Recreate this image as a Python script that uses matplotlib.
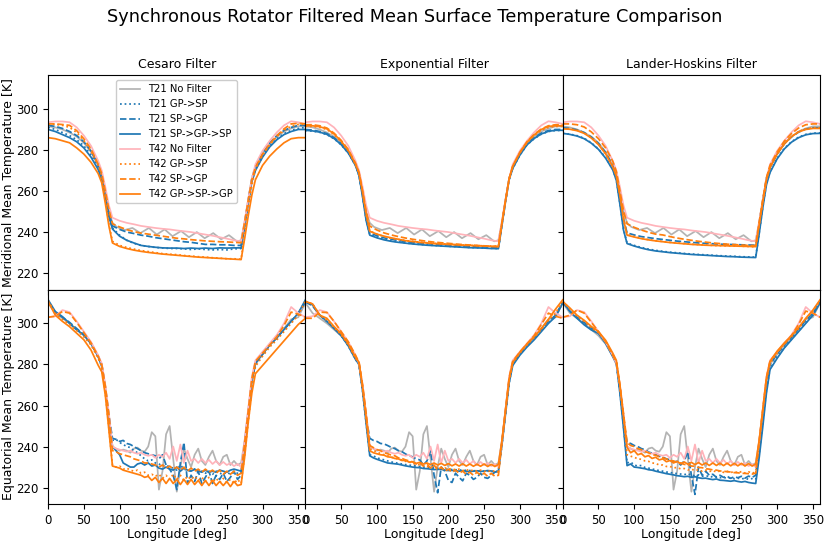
import matplotlib
matplotlib.use("Agg")
import matplotlib.pyplot as plt

# ---------------- longitude grids ----------------
LON_MER = [0, 10, 20, 30, 40, 50, 60, 70, 75, 80, 85,
           90, 100, 110, 120, 130, 140, 150, 160, 170, 180, 190, 200, 210, 220, 230, 240, 250, 260, 270,
           275, 280, 285, 290, 300, 310, 320, 330, 340, 350, 360]
LON_MER_T21NF = [0, 10, 20, 30, 40, 50, 60, 70, 75, 80, 85,
                 90, 96, 107, 118, 129, 141, 152, 163, 174, 186, 197, 208, 219, 231, 242, 253, 264, 270,
                 275, 280, 285, 290, 300, 310, 320, 330, 340, 350, 360]
LON_EQ = [0, 10, 20, 30, 40, 50, 60, 70, 75, 80, 85,
          90, 95, 100, 105, 110, 115, 120, 125, 130, 135, 140, 145, 150, 155, 160, 165, 170, 175, 180,
          185, 190, 195, 200, 205, 210, 215, 220, 225, 230, 235, 240, 245, 250, 255, 260, 265, 270,
          275, 280, 285, 290, 300, 310, 320, 330, 340, 350, 360]

FILTERS = ["Cesaro Filter", "Exponential Filter", "Lander-Hoskins Filter"]
LABELS = ["T21 No Filter", "T21 GP->SP", "T21 SP->GP", "T21 SP->GP->SP",
          "T42 No Filter", "T42 GP->SP", "T42 SP->GP", "T42 GP->SP->GP"]
ROW_LABELS = ["Meridional Mean Temperature [K]", "Equatorial Mean Temperature [K]"]
XTICKS = [0, 50, 100, 150, 200, 250, 300, 350]
YTICKS = [220, 240, 260, 280, 300]

# ---------------- meridional mean (top row) ----------------
T21_NF_MER = ([291.5, 291, 290, 288.5, 286.5, 283.5, 279, 272.5, 268, 259, 250]
              + [244.5, 242.5, 241, 242, 239.5, 242, 238.8, 241.3, 238, 240.5, 237.5, 240, 237, 239.5, 236.5, 238.5, 235.5, 236]
              + [245, 256, 266, 271.5, 278.5, 283, 286.5, 289, 290.5, 291.5, 291.5])
T42_NF_MER = ([293.5, 293.9, 293.9, 293.5, 291, 287, 282, 274.7, 270, 262, 253]
              + [247, 245.5, 244.5, 243.8, 243, 242.5, 242, 241.6, 241.3, 240.8, 240.4, 240, 239.4, 238.8, 238.2, 237.5, 236.8, 236, 235.5]
              + [245.5, 256, 266, 273, 279.6, 284.5, 288.6, 292, 294, 293.5, 292.7])

C_T21_GPSP_MER = ([291, 290, 288.5, 287, 285, 282, 277.5, 271.5, 266.5, 257.5, 248]
                  + [242, 238.5, 236, 234.5, 233.5, 233, 232.5, 232.3, 232, 232, 231.8, 231.5, 231.8, 231.5, 231.3, 231.5, 231.3, 231.8, 232]
                  + [243, 254.5, 265, 270.5, 277, 282, 285.5, 288, 289.5, 290.5, 291])
C_T21_SPGP_MER = ([292, 291.5, 290.5, 289, 287, 284, 279.5, 273, 268, 259, 249.5]
                  + [243, 241.3, 240, 239.3, 238.5, 238, 237.3, 236.8, 236.3, 235.8, 235.3, 235, 234.5, 234, 234, 233.8, 233.8, 233.5, 233.5]
                  + [244.5, 255.5, 266, 272, 278.5, 283.5, 287, 289.5, 291, 292, 292])
C_T21_SPGPSP_MER = ([290, 289, 287.5, 286, 284, 281, 276.5, 270.5, 265.5, 256.5, 247.5]
                    + [241.5, 238, 236, 234.7, 233.5, 233, 232.6, 232.3, 232.2, 232.2, 232, 232.2, 232, 232.2, 232, 232.3, 232.2, 232.3, 232.3]
                    + [243, 254, 264.5, 270, 276.5, 281.5, 285, 287.5, 289, 290, 290])
C_T42_GPSP_MER = ([292.5, 292.5, 292, 291, 288.5, 284.5, 279.5, 272.5, 267.5, 256, 244]
                  + [235.5, 233.5, 232.5, 231.7, 231, 230.5, 230, 229.5, 229.2, 229, 228.6, 228.3, 228, 227.8, 227.5, 227.3, 227, 227, 226.8]
                  + [239, 251.5, 263, 270.5, 277.5, 282.5, 286.5, 289.5, 291.5, 292.5, 292.5])
C_T42_SPGP_MER = ([292.7, 292.7, 292.4, 292, 289.4, 285.4, 280.5, 273, 268.5, 260, 251]
                  + [244, 242.5, 241.2, 240.2, 239.5, 239, 238.5, 238, 237.5, 237, 236.7, 236.3, 236, 235.7, 235.5, 235.3, 235.2, 235, 234.8]
                  + [245, 255.5, 265.5, 271.5, 278, 283, 287, 290.3, 292.7, 293, 292.7])
C_T42_GPSPGP_MER = ([286, 285.5, 284.5, 283.5, 281, 278, 274, 268.5, 264, 254, 243]
                    + [234.7, 233, 232, 231.2, 230.6, 230.1, 229.7, 229.3, 229, 228.7, 228.4, 228.1, 227.8, 227.6, 227.4, 227.2, 227, 226.8, 226.6]
                    + [237, 248, 258, 265.5, 272.5, 277, 280.5, 283.5, 285.5, 286, 286])

E_T21_GPSP_MER = ([289.5, 289.2, 288.6, 287.5, 285.5, 282.5, 278.5, 272.5, 267.5, 257.5, 246]
                  + [238.8, 237.5, 236.5, 235.8, 235.2, 234.7, 234.3, 234, 233.7, 233.5, 233.3, 233.1, 232.9, 232.7, 232.5, 232.4, 232.2, 232.1, 232]
                  + [243.5, 255, 265.5, 271, 277.5, 282.5, 285.5, 287.7, 289, 289.5, 289.5])
E_T21_SPGP_MER = ([290, 289.7, 289, 288, 286, 283, 279, 273, 268, 258, 247]
                  + [239.6, 238.2, 237.2, 236.5, 235.9, 235.4, 235, 234.7, 234.4, 234.1, 233.9, 233.7, 233.5, 233.3, 233.1, 233, 232.8, 232.7, 232.6]
                  + [244, 255.5, 266, 271.5, 278, 283, 286, 288.2, 289.5, 290, 290])
E_T21_SPGPSP_MER = ([289.6, 289.3, 288.7, 287.6, 285.6, 282.6, 278.5, 272.5, 267.5, 257, 245.5]
                    + [238.5, 237.2, 236.2, 235.5, 235, 234.6, 234.2, 233.9, 233.6, 233.4, 233.2, 233, 232.8, 232.6, 232.4, 232.3, 232.2, 232, 231.9]
                    + [243.5, 255, 265.5, 271, 277.5, 282.5, 285.6, 287.8, 289.1, 289.6, 289.6])
E_T42_GPSP_MER = ([291.5, 291.5, 291, 290, 287.5, 284, 279.5, 273, 268.5, 259, 248]
                  + [240.5, 239, 237.8, 237, 236.4, 235.9, 235.5, 235.1, 234.8, 234.5, 234.3, 234.1, 233.9, 233.7, 233.5, 233.4, 233.3, 233.2, 233.1]
                  + [244.5, 255.5, 266, 272, 278.5, 283.5, 287, 289.5, 291, 291.5, 291.5])
E_T42_SPGP_MER = ([292.3, 292.3, 291.8, 290.7, 288.2, 284.7, 280.2, 273.5, 269, 260, 250]
                  + [242.9, 241, 239.6, 238.6, 237.8, 237.1, 236.5, 236, 235.5, 235.1, 234.8, 234.5, 234.2, 233.9, 233.7, 233.5, 233.3, 233.1, 233]
                  + [244.5, 255.5, 266, 272, 278.8, 284, 287.6, 290.2, 291.8, 292.3, 292.3])
E_T42_GPSPGP_MER = ([291.8, 291.8, 291.3, 290.3, 287.8, 284.3, 279.8, 273.2, 268.7, 259.5, 249]
                    + [240.4, 239, 238, 237.2, 236.5, 235.8, 235.4, 235, 234.7, 234.4, 234.2, 234, 233.8, 233.6, 233.5, 233.3, 233.2, 233, 232.9]
                    + [244.5, 255.5, 266, 272, 278.7, 283.8, 287.4, 290, 291.5, 291.8, 291.8])

L_T21_GPSP_MER = ([288.1, 287.7, 287, 285.7, 283.5, 280.5, 276.3, 270.5, 265.5, 254, 241.5]
                  + [234.7, 233.5, 232.5, 231.7, 231.1, 230.6, 230.2, 229.9, 229.6, 229.3, 229.1, 228.9, 228.7, 228.5, 228.3, 228.2, 228, 227.9, 227.8]
                  + [240, 252.5, 263.5, 269.5, 276, 280.8, 284, 286.3, 287.6, 288.2, 288.3])
L_T21_SPGP_MER = ([290.8, 290.5, 289.8, 288.5, 286.3, 283.2, 278.8, 272.5, 267.5, 257.5, 246.5]
                  + [239.6, 238.6, 237.8, 237.3, 236.8, 236.4, 236, 235.6, 235.3, 235, 234.7, 234.5, 234.3, 234.1, 234, 233.9, 233.8, 233.7, 233.6]
                  + [244.5, 255.5, 266, 271.5, 278, 283, 286.3, 288.7, 290.2, 290.8, 290.8])
L_T21_SPGPSP_MER = ([288.1, 287.6, 286.8, 285.5, 283.3, 280.3, 276, 270.3, 265.2, 253.5, 241]
                    + [234.4, 233.2, 232.2, 231.4, 230.8, 230.4, 230, 229.7, 229.4, 229.1, 228.9, 228.7, 228.5, 228.3, 228.1, 228, 227.8, 227.7, 227.6]
                    + [239.5, 252, 263, 269, 275.7, 280.5, 283.8, 286, 287.4, 288, 288.1])
L_T42_GPSP_MER = ([290.5, 290.3, 289.6, 288.3, 286, 282.8, 278.3, 272, 267.5, 258, 246.5]
                  + [238.8, 237.8, 237, 236.3, 235.8, 235.4, 235, 234.7, 234.4, 234.1, 233.9, 233.7, 233.5, 233.4, 233.3, 233.2, 233.1, 233, 232.8]
                  + [244, 255, 265.5, 271.5, 278, 283, 286.5, 289, 290.3, 290.8, 290.8])
L_T42_SPGP_MER = ([292.7, 292.7, 292.3, 291.2, 288.8, 285.5, 281, 274.5, 269.5, 260, 250.5]
                  + [244, 242.3, 241, 239.9, 239, 238.6, 237.8, 237.1, 236.5, 236, 235.5, 235.1, 234.7, 234.4, 234.1, 233.9, 233.7, 233.5, 233.4]
                  + [245, 256, 266.5, 272.5, 279, 284.3, 288, 290.7, 292.3, 292.7, 292.7])
L_T42_GPSPGP_MER = ([290.3, 290.1, 289.4, 288.1, 285.8, 282.6, 278.1, 271.8, 267.3, 257.8, 246.2]
                    + [238.5, 237.6, 236.8, 236.2, 235.7, 235.3, 234.9, 234.6, 234.3, 234, 233.8, 233.6, 233.5, 233.4, 233.3, 233.2, 233.1, 233, 232.9]
                    + [244, 255, 265.5, 271.5, 278, 283, 286.5, 288.8, 290, 290.5, 290.5])

# ---------------- equatorial mean (bottom row) ----------------
T21_NF_EQ = ([310, 305, 302.5, 300, 297, 294, 290, 284, 280, 269, 255]
             + [240, 239, 238, 238.5, 238, 237, 239, 239.5, 238, 237.5,
                240, 247, 245, 219, 228, 246, 250, 234, 218, 230,
                239, 234, 230, 236, 239, 233, 231, 235, 238, 233,
                231, 235, 236, 231, 233, 231, 232]
             + [243, 258, 272, 280, 285, 289.5, 293, 297.5, 302, 303, 310])
T42_NF_EQ = ([303, 303.5, 306.5, 305.5, 301, 296, 291, 284.5, 280.5, 270, 256]
             + [240, 239, 238.5, 238, 237.5, 238, 237, 236.5, 237, 236,
                235.5, 236, 234.5, 236, 235, 237, 234, 240, 233, 241,
                232, 238, 233, 234, 232, 234, 232, 233.5, 231.5, 233,
                231, 232.5, 231, 232, 230.5, 231.5, 230]
             + [243, 258.5, 274, 282, 286.2, 290.3, 294.4, 300, 308, 305, 303])

C_T21_GPSP_EQ = ([311, 305, 302.5, 300, 297, 294, 290, 283.5, 279.5, 268, 254]
                 + [243, 243.5, 242, 241, 240, 239.5, 238, 237, 235.5, 234,
                    233, 233.5, 232, 231.5, 230.5, 231, 230, 229.5, 228.5, 231,
                    229, 228.5, 228, 229, 227.5, 228, 227, 228, 226.5, 228,
                    227, 226.5, 227.5, 226.5, 227.5, 227, 227]
                 + [241, 256, 271, 280, 284.5, 289, 292.5, 296.5, 300.5, 304.5, 311])
C_T21_SPGP_EQ = ([310.5, 305.5, 303, 300.5, 297.5, 294.5, 290.5, 284, 280, 269, 255]
                 + [244, 243.5, 242.5, 243, 241.5, 241, 240, 239, 238, 237,
                    236.5, 236, 235.5, 234, 236, 231, 229, 226, 219, 232,
                    242, 222, 226, 223, 228, 222, 225, 228, 222, 226,
                    224, 227, 223, 225, 228, 224, 226]
                 + [241.5, 256.5, 271.5, 280.5, 285, 289.5, 293, 297, 301, 305, 310.5])
C_T21_SPGPSP_EQ = ([311.5, 305.8, 303.3, 300, 296.8, 294.4, 290.3, 283.8, 279, 267.5, 253]
                   + [240, 238, 236, 232, 231, 230, 230, 231.5, 232, 231,
                      232, 230.5, 231, 229.5, 229, 230, 229, 228.5, 230, 228,
                      229.5, 228.5, 228, 229, 228, 227.5, 228.5, 227.5, 228, 227.5,
                      228.5, 228, 227.5, 228.5, 229, 228.5, 228]
                   + [240, 255, 272, 281, 285, 289.5, 293, 297, 301, 305, 311.5])
C_T42_GPSP_EQ = ([311, 305, 302, 299.5, 296.5, 293.5, 289.5, 283, 279, 266, 249]
                 + [231, 230, 230.5, 229, 229.5, 228.5, 228, 228.5, 227, 227.5,
                    226, 226.5, 225.5, 226.5, 224.5, 226, 224, 226.5, 224, 226,
                    223.5, 225.5, 224, 225.5, 223.5, 225, 223, 225, 222.5, 224.5,
                    222.5, 224.5, 222.5, 224, 222, 224, 222]
                 + [236, 252, 268, 279, 284, 288.5, 292, 296, 300, 304, 311])
C_T42_SPGP_EQ = ([303, 303.5, 305.8, 305, 300.5, 295.5, 290.5, 284, 280, 269.5, 255.5]
                 + [238, 237.5, 236.5, 236, 235.5, 235, 234, 233.5, 233, 232,
                    232, 231.5, 231, 230, 231, 229.5, 230.5, 229, 230, 228.5,
                    230, 228, 229.5, 228, 229, 227.5, 229, 227.5, 228.5, 227,
                    228.5, 226.5, 228, 226.5, 228, 226, 227]
                 + [242, 257.5, 273, 281.5, 285.5, 289.5, 293.5, 299, 305.5, 304.5, 303])
C_T42_GPSPGP_EQ = ([310.7, 304, 301, 298.4, 295.2, 292, 287, 279.6, 276.4, 265, 248]
                   + [230.5, 230, 229.5, 228.5, 228, 227.5, 227, 226.5, 226, 225,
                      225.5, 223.5, 225, 222.5, 224.5, 222, 224.5, 222, 224, 221.5,
                      224, 221.5, 224, 221.5, 223.5, 221, 223.5, 221, 223.5, 221,
                      223, 221, 223, 220.5, 223, 221, 221.5]
                   + [235, 252, 266, 275.5, 279.5, 283.5, 287.5, 291.5, 295.5, 299.5, 302.5])

E_T21_GPSP_EQ = ([310.7, 309, 304, 301, 297.8, 294, 289, 282.5, 280, 267, 251.5]
                 + [236, 235.5, 234.5, 234, 233.5, 233, 232.5, 232.2, 231.8, 231.5,
                    231.2, 231, 230.7, 230.5, 230.2, 230, 229.8, 229.7, 229.5, 229.3,
                    229.2, 229, 228.9, 228.8, 228.7, 228.6, 228.5, 228.4, 228.3, 228.2,
                    228.2, 228.1, 228, 228, 227.9, 227.9, 227.8]
                 + [241, 256, 271, 280, 285, 289, 292.5, 296.5, 300.5, 303.5, 310])
E_T21_SPGP_EQ = ([310.5, 308.5, 304, 301, 298, 294.5, 289.5, 283, 280, 268, 254]
                 + [244, 243, 242.5, 241.5, 241.3, 240.5, 239.6, 239, 238, 237.5,
                    236.4, 235.5, 235, 234, 233.5, 231, 233, 238, 226, 217.5,
                    230, 228, 223.5, 222.5, 227, 225, 223.3, 227, 226, 224,
                    225, 227, 225, 224.5, 226, 227.5, 228.2]
                 + [243, 257, 272, 280.5, 285.5, 289.5, 293, 297, 301, 304, 310.5])
E_T21_SPGPSP_EQ = ([310.7, 309, 304, 301, 297.5, 294, 289, 282.5, 280, 267, 251]
                   + [235.5, 234.5, 233.8, 233.2, 232.6, 232, 231.8, 231.6, 231.4, 231,
                      230.6, 230.3, 230, 229.8, 229.7, 229.3, 229.2, 229, 228.8, 228.9,
                      228.9, 228.5, 228.3, 228.4, 228.2, 228, 228.2, 228, 227.8, 228,
                      228.2, 227.9, 228, 228.3, 228.1, 227.6, 228]
                   + [241, 256, 271, 279.5, 284.5, 288.5, 292, 296, 300, 303.3, 310])
E_T42_GPSP_EQ = ([310.7, 309.5, 304, 301.5, 298, 294.5, 289.5, 283, 280.5, 268, 253]
                 + [239, 238, 237.5, 236.5, 236, 235.5, 234.8, 234.5, 233.8, 233.5,
                    232.8, 232.5, 231.8, 231.6, 231, 230.8, 230.2, 230.4, 229.8, 230,
                    229.4, 229.6, 229, 229.3, 228.6, 229, 228.3, 228.8, 228.1, 228.6,
                    228, 228.5, 227.8, 228.3, 227.7, 228.2, 227.6]
                 + [242, 257, 272, 280.5, 285.5, 289.5, 293, 297, 301.5, 305, 311])
E_T42_SPGP_EQ = ([302.5, 302.5, 305.5, 305.3, 301, 296, 291, 284.5, 281, 270, 256]
                 + [240.5, 239.5, 238.5, 238, 237, 236.5, 235.8, 235.5, 234.5, 234.2,
                    233.5, 233, 232.5, 231.5, 232, 230.5, 231.5, 229.5, 231, 228.5,
                    230, 228, 229, 227.5, 228.5, 227, 228, 226.5, 227.5, 226,
                    227.5, 226, 227, 225.5, 227, 225.5, 226]
                 + [242.5, 258, 273.5, 281.5, 286, 290, 294, 299.5, 305, 303.5, 302.5])
E_T42_GPSPGP_EQ = ([310.7, 309.5, 304, 302.5, 298.5, 295, 290, 283.5, 281, 269, 254]
                   + [238, 237, 236.5, 236, 235.8, 235, 234.8, 234.2, 234, 233.2,
                      233.3, 232.4, 232.6, 231.8, 232.3, 231.5, 232, 231.2, 232, 231,
                      231.8, 230.8, 231.7, 230.6, 231.5, 230.5, 231.6, 230.5, 231.5, 230.4,
                      231.4, 230.4, 231.5, 230.3, 231.3, 230.3, 231.3]
                   + [243, 258, 273, 281, 286, 290, 293.5, 297.5, 302, 307, 311.5])

L_T21_GPSP_EQ = ([310.7, 306.5, 303, 300, 297.3, 295.5, 290.8, 284.3, 281, 267, 250]
                 + [232, 232.5, 231, 230.5, 230.8, 229.8, 229.5, 229, 228.8, 228.2,
                    228, 227.6, 227.4, 227, 226.8, 226.6, 226.3, 226.8, 226, 225.8,
                    226.2, 225.6, 225.4, 225.8, 225, 225.3, 224.8, 225, 224.5, 224.8,
                    224.3, 224.6, 224.2, 224.6, 224, 224.4, 224]
                 + [237, 252, 267.5, 278, 283.5, 288.3, 292.3, 296.3, 300.3, 304.3, 310.5])
L_T21_SPGP_EQ = ([310.5, 306, 303, 300.5, 297.8, 295.5, 291, 284.8, 281, 268, 253]
                 + [242, 241.5, 240.5, 240, 239, 238.5, 237.3, 236.8, 236, 235.3,
                    234.8, 234, 233.5, 232.5, 232.8, 231, 233, 237.5, 226, 216.7,
                    230, 226, 228, 226, 226.5, 225, 226, 225, 225.5, 224.5,
                    225.3, 224.8, 225.5, 224.6, 225.6, 225, 226]
                 + [241, 256, 271, 280, 285, 289.5, 293.3, 297.3, 301.5, 305, 310.5])
L_T21_SPGPSP_EQ = ([310.7, 305.8, 302.5, 299.3, 296.8, 295.1, 290.3, 283.8, 280.5, 266, 249]
                   + [230.7, 231.5, 230, 229.8, 229.5, 229.2, 228.7, 228.5, 228, 227.6,
                      227.2, 226.8, 226.5, 226.2, 225.8, 225.6, 225.3, 225.5, 225, 225.3,
                      224.8, 224.5, 224.6, 224.2, 223.9, 224.2, 223.6, 223.5, 223.3, 223.1,
                      223.4, 223, 222.7, 223, 222.5, 222.2, 222]
                   + [235, 250, 266, 277.5, 283, 288, 292, 296, 300, 304, 310])
L_T42_GPSP_EQ = ([310.7, 307, 303.5, 301, 298, 295.5, 291.3, 285, 281.5, 269, 254]
                 + [236, 235.3, 234.8, 234, 233.8, 233, 232.8, 232, 231.8, 231,
                    231, 230.3, 230.3, 229.6, 229.8, 229.1, 229.3, 228.6, 229, 228.3,
                    228.7, 228, 228.5, 227.8, 228.3, 227.6, 228.1, 227.4, 228, 227.3,
                    227.9, 227.2, 227.8, 227.1, 227.7, 227, 227.6]
                 + [242, 257, 272, 280.5, 285.5, 290, 293.5, 297.5, 302, 306, 311])
L_T42_SPGP_EQ = ([303, 304, 306.5, 305, 300.5, 296, 291, 284.5, 281, 270, 256]
                 + [242, 240.5, 240, 239, 238.5, 237.5, 237, 236, 235.8, 235,
                    234.5, 234, 233.2, 233, 232.2, 232, 231.3, 231.2, 230.5, 230.4,
                    229.8, 229.7, 229.2, 229, 228.6, 228.5, 228.1, 228, 227.7, 227.6,
                    227.3, 227.2, 227, 226.9, 226.8, 226.6, 227]
                 + [243, 258, 273.5, 281.5, 286, 290, 294, 299.5, 306, 305, 303])
L_T42_GPSPGP_EQ = ([310.7, 307.5, 304, 301.5, 298.5, 296, 291.8, 285.5, 282, 270, 255]
                   + [239.6, 237, 238, 236, 236.6, 235, 235.6, 234.2, 234.8, 233.5,
                      234, 232.6, 233.2, 232, 232.8, 231.6, 232.5, 231.4, 232.3, 231.2,
                      232.2, 231, 232, 230.8, 232, 230.8, 231.9, 230.7, 231.9, 230.6,
                      231.8, 230.6, 231.8, 230.5, 231.7, 230.5, 231.5]
                   + [243.5, 258.5, 273.5, 281.5, 286.5, 290.5, 294, 298, 302.5, 306.5, 311.5])

# ---------------- assemble panels ----------------
MER = {
    0: [C_T21_GPSP_MER, C_T21_SPGP_MER, C_T21_SPGPSP_MER, C_T42_GPSP_MER, C_T42_SPGP_MER, C_T42_GPSPGP_MER],
    1: [E_T21_GPSP_MER, E_T21_SPGP_MER, E_T21_SPGPSP_MER, E_T42_GPSP_MER, E_T42_SPGP_MER, E_T42_GPSPGP_MER],
    2: [L_T21_GPSP_MER, L_T21_SPGP_MER, L_T21_SPGPSP_MER, L_T42_GPSP_MER, L_T42_SPGP_MER, L_T42_GPSPGP_MER],
}
EQ = {
    0: [C_T21_GPSP_EQ, C_T21_SPGP_EQ, C_T21_SPGPSP_EQ, C_T42_GPSP_EQ, C_T42_SPGP_EQ, C_T42_GPSPGP_EQ],
    1: [E_T21_GPSP_EQ, E_T21_SPGP_EQ, E_T21_SPGPSP_EQ, E_T42_GPSP_EQ, E_T42_SPGP_EQ, E_T42_GPSPGP_EQ],
    2: [L_T21_GPSP_EQ, L_T21_SPGP_EQ, L_T21_SPGPSP_EQ, L_T42_GPSP_EQ, L_T42_SPGP_EQ, L_T42_GPSPGP_EQ],
}

BLUE = "#1f77b4"
ORANGE = "#ff7f0e"
GREY = "#b3b3b3"
PINK = "#ffb3ba"
STYLES = [(GREY, "-"), (BLUE, ":"), (BLUE, "--"), (BLUE, "-"),
          (PINK, "-"), (ORANGE, ":"), (ORANGE, "--"), (ORANGE, "-")]
LW = 1.25

fig, axes = plt.subplots(2, 3, sharex=True, sharey=True, figsize=(8.3, 5.44), dpi=100)
fig.subplots_adjust(left=0.058, right=0.988, top=0.862, bottom=0.0735, wspace=0, hspace=0)

for row in range(2):
    for col in range(3):
        ax = axes[row, col]
        if row == 0:
            filt = MER[col]
            series = [(LON_MER_T21NF, T21_NF_MER)] + [(LON_MER, s) for s in filt[:3]] \
                + [(LON_MER, T42_NF_MER)] + [(LON_MER, s) for s in filt[3:]]
        else:
            filt = EQ[col]
            series = [(LON_EQ, T21_NF_EQ)] + [(LON_EQ, s) for s in filt[:3]] \
                + [(LON_EQ, T42_NF_EQ)] + [(LON_EQ, s) for s in filt[3:]]
        for (x, y), (c, ls), lab in zip(series, STYLES, LABELS):
            ax.plot(x, y, color=c, linestyle=ls, linewidth=LW, label=lab)
        ax.set_xlim(0, 360)
        ax.set_ylim(212, 316.5)
        ax.set_xticks(XTICKS)
        ax.set_yticks(YTICKS)
        ax.tick_params(labelsize=8.5)
        if row == 0:
            ax.set_title(FILTERS[col], fontsize=9, pad=5)
        else:
            ax.set_xlabel("Longitude [deg]", fontsize=9, labelpad=1)
        if col == 0:
            ax.set_ylabel(ROW_LABELS[row], fontsize=9)
            ax.yaxis.set_label_coords(-0.128, 0.5)

axes[0, 0].legend(loc="upper center", fontsize=7.2, framealpha=1.0)
fig.suptitle("Synchronous Rotator Filtered Mean Surface Temperature Comparison",
             fontsize=12.8, y=0.985)

fig.savefig("out.png", dpi=100)
